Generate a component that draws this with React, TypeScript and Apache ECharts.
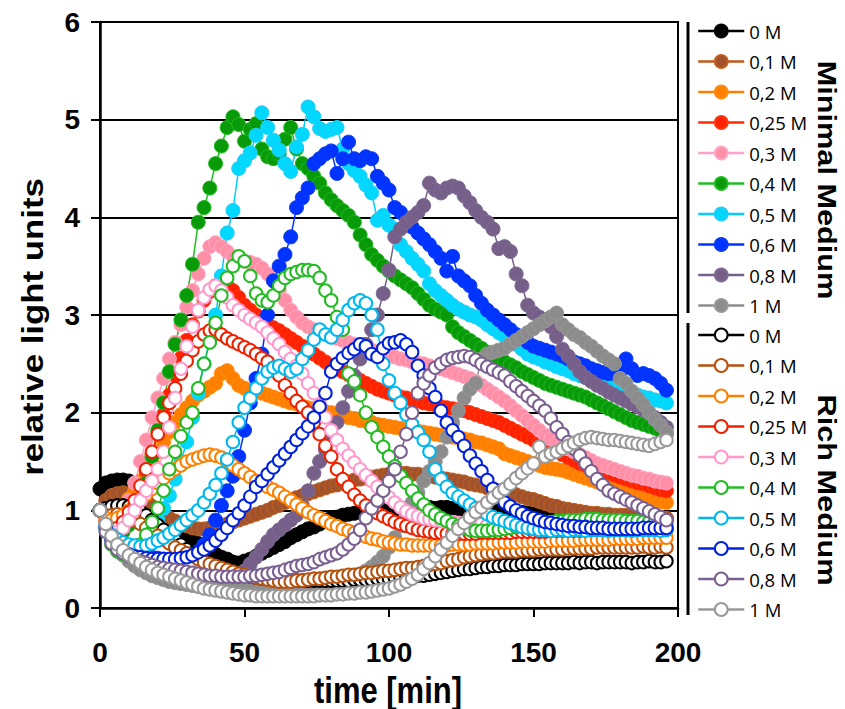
import React, { useEffect, useRef } from "react";
import * as echarts from "echarts";

// Readings every 2 minutes, 0 … 196 min
const times: number[] = Array.from({ length: 99 }, (_, i) => i * 2);

const concentrations = ["0 M", "0,1 M", "0,2 M", "0,25 M", "0,3 M", "0,4 M", "0,5 M", "0,6 M", "0,8 M", "1 M"];
const xTicks = [0, 50, 100, 150, 200];
const yTicks = [0, 1, 2, 3, 4, 5, 6];

// ---------- Minimal medium (filled markers) ----------
const minimal0 = [
  1.22, 1.28, 1.30, 1.31, 1.31, 1.30, 1.25, 1.18, 1.10, 1.02,
  0.96, 0.92, 0.88, 0.85, 0.80, 0.75, 0.70, 0.66, 0.62, 0.58,
  0.55, 0.52, 0.50, 0.47, 0.46, 0.48, 0.50, 0.53, 0.56, 0.59,
  0.62, 0.65, 0.68, 0.72, 0.75, 0.78, 0.81, 0.83, 0.86, 0.90,
  0.92, 0.93, 0.95, 0.96, 0.97, 0.98, 0.99, 0.99, 1.00, 1.00,
  1.01, 1.01, 1.02, 1.02, 1.02, 1.03, 1.03, 1.03, 1.02, 1.03,
  1.03, 1.02, 1.02, 1.01, 1.01, 1.00, 1.00, 1.00, 0.99, 0.99,
  0.99, 0.98, 0.98, 0.98, 0.97, 0.97, 0.97, 0.96, 0.96, 0.96,
  0.96, 0.95, 0.95, 0.95, 0.94, 0.94, 0.94, 0.94, 0.93, 0.93,
  0.93, 0.93, 0.92, 0.92, 0.92, 0.92, 0.91, 0.91, 0.91,
];
const minimal01 = [
  1.00, 1.10, 1.15, 1.17, 1.18, 1.17, 1.15, 1.12, 1.08, 1.04,
  1.00, 0.96, 0.92, 0.89, 0.86, 0.84, 0.82, 0.81, 0.81, 0.82,
  0.83, 0.84, 0.86, 0.88, 0.90, 0.92, 0.94, 0.96, 0.98, 1.00,
  1.03, 1.05, 1.08, 1.10, 1.13, 1.15, 1.17, 1.19, 1.21, 1.23,
  1.25, 1.26, 1.28, 1.29, 1.31, 1.32, 1.33, 1.34, 1.35, 1.36,
  1.37, 1.38, 1.38, 1.38, 1.37, 1.37, 1.36, 1.35, 1.34, 1.33,
  1.32, 1.31, 1.30, 1.29, 1.27, 1.26, 1.25, 1.23, 1.22, 1.20,
  1.19, 1.17, 1.16, 1.14, 1.12, 1.11, 1.09, 1.07, 1.05, 1.04,
  1.02, 1.01, 1.00, 0.99, 0.98, 0.97, 0.97, 0.96, 0.96, 0.95,
  0.95, 0.95, 0.94, 0.94, 0.94, 0.93, 0.93, 0.93, 0.92,
];
const minimal02 = [
  1.00, 0.95, 0.95, 1.00, 1.05, 1.12, 1.20, 1.30, 1.40, 1.50,
  1.60, 1.70, 1.80, 1.90, 1.98, 2.05, 2.12, 2.18, 2.22, 2.26,
  2.30, 2.40, 2.43, 2.35, 2.28, 2.25, 2.23, 2.21, 2.20, 2.18,
  2.16, 2.14, 2.12, 2.10, 2.09, 2.07, 2.05, 2.04, 2.02, 2.01,
  2.00, 1.98, 1.97, 1.95, 1.94, 1.92, 1.91, 1.90, 1.88, 1.87,
  1.86, 1.85, 1.84, 1.83, 1.82, 1.81, 1.80, 1.79, 1.78, 1.77,
  1.76, 1.75, 1.74, 1.73, 1.72, 1.70, 1.69, 1.67, 1.65, 1.63,
  1.58, 1.56, 1.54, 1.52, 1.50, 1.48, 1.46, 1.44, 1.43, 1.42,
  1.41, 1.39, 1.37, 1.35, 1.33, 1.31, 1.29, 1.27, 1.25, 1.23,
  1.21, 1.19, 1.17, 1.15, 1.13, 1.11, 1.10, 1.09, 1.08,
];
const minimal025 = [
  1.00, 0.90, 0.85, 0.85, 0.90, 0.98, 1.10, 1.25, 1.40, 1.58,
  1.78, 1.98, 2.18, 2.38, 2.56, 2.74, 2.90, 3.04, 3.15, 3.24,
  3.30, 3.32, 3.30, 3.25, 3.18, 3.10, 3.05, 3.00, 2.95, 2.90,
  2.87, 2.84, 2.80, 2.76, 2.72, 2.68, 2.64, 2.60, 2.56, 2.52,
  2.48, 2.45, 2.42, 2.39, 2.36, 2.33, 2.30, 2.27, 2.24, 2.22,
  2.20, 2.18, 2.16, 2.15, 2.13, 2.12, 2.10, 2.09, 2.08, 2.06,
  2.05, 2.04, 2.03, 2.02, 2.00, 1.98, 1.96, 1.94, 1.92, 1.90,
  1.87, 1.84, 1.81, 1.78, 1.75, 1.72, 1.69, 1.66, 1.63, 1.60,
  1.57, 1.54, 1.51, 1.48, 1.46, 1.44, 1.42, 1.40, 1.38, 1.36,
  1.34, 1.32, 1.30, 1.28, 1.27, 1.25, 1.23, 1.21, 1.20,
];
const minimal03 = [
  1.00, 0.92, 0.88, 0.90, 0.98, 1.10, 1.28, 1.50, 1.72, 1.95,
  2.15, 2.35, 2.55, 2.72, 2.90, 3.08, 3.25, 3.42, 3.58, 3.70,
  3.74, 3.70, 3.65, 3.60, 3.57, 3.55, 3.54, 3.52, 3.48, 3.42,
  3.35, 3.25, 3.15, 3.05, 2.98, 2.92, 2.88, 2.85, 2.82, 2.80,
  2.78, 2.76, 2.74, 2.72, 2.70, 2.68, 2.66, 2.64, 2.62, 2.60,
  2.58, 2.57, 2.55, 2.54, 2.52, 2.51, 2.50, 2.48, 2.46, 2.45,
  2.43, 2.41, 2.39, 2.37, 2.35, 2.32, 2.28, 2.24, 2.20, 2.16,
  2.12, 2.07, 2.02, 1.97, 1.92, 1.87, 1.82, 1.77, 1.73, 1.69,
  1.66, 1.63, 1.60, 1.57, 1.54, 1.51, 1.48, 1.46, 1.44, 1.42,
  1.40, 1.38, 1.36, 1.35, 1.33, 1.32, 1.30, 1.29, 1.28,
];
const minimal04 = [
  1.00, 0.85, 0.78, 0.75, 0.78, 0.85, 0.95, 1.10, 1.28, 1.55,
  1.82, 2.10, 2.42, 2.70, 2.95, 3.20, 3.52, 3.95, 4.10, 4.30,
  4.55, 4.73, 4.92, 5.03, 4.95, 4.78, 4.90, 4.96, 4.70, 4.62,
  4.60, 4.65, 4.80, 4.92, 4.70, 4.55, 4.50, 4.42, 4.35, 4.25,
  4.18, 4.12, 4.07, 4.02, 3.95, 3.82, 3.72, 3.62, 3.56, 3.50,
  3.45, 3.40, 3.36, 3.32, 3.28, 3.22, 3.16, 3.10, 3.06, 3.03,
  3.00, 2.88, 2.82, 2.78, 2.74, 2.70, 2.66, 2.62, 2.58, 2.55,
  2.52, 2.49, 2.46, 2.42, 2.39, 2.36, 2.33, 2.30, 2.28, 2.26,
  2.24, 2.22, 2.20, 2.18, 2.16, 2.13, 2.10, 2.07, 2.04, 2.01,
  1.98, 1.95, 1.92, 1.90, 1.88, 1.86, 1.84, 1.81, 1.78,
];
const minimal05 = [
  1.00, 0.85, 0.75, 0.68, 0.63, 0.60, 0.60, 0.62, 0.68, 0.78,
  0.90, 1.02, 1.15, 1.32, 1.50, 1.70, 1.95, 2.20, 2.50, 2.75,
  3.00, 3.40, 3.84, 4.07, 4.50, 4.58, 4.66, 4.84, 5.07, 4.92,
  4.79, 4.69, 4.55, 4.47, 4.72, 4.85, 5.13, 5.03, 4.91, 4.88,
  4.90, 4.92, 4.70, 4.55, 4.48, 4.42, 4.33, 4.25, 3.97, 4.02,
  3.92, 3.88, 3.72, 3.65, 3.58, 3.52, 3.45, 3.32, 3.25, 3.20,
  3.15, 3.10, 3.06, 3.03, 3.00, 2.98, 2.95, 2.90, 2.86, 2.82,
  2.78, 2.74, 2.70, 2.65, 2.60, 2.57, 2.55, 2.52, 2.50, 2.47,
  2.45, 2.43, 2.40, 2.38, 2.36, 2.34, 2.32, 2.30, 2.28, 2.26,
  2.24, 2.22, 2.20, 2.18, 2.16, 2.15, 2.13, 2.12, 2.10,
];
const minimal06 = [
  1.00, 0.85, 0.75, 0.68, 0.63, 0.60, 0.57, 0.55, 0.53, 0.52,
  0.51, 0.50, 0.50, 0.50, 0.51, 0.53, 0.55, 0.58, 0.65, 0.75,
  0.90, 1.05, 1.20, 1.35, 1.55, 1.82, 2.10, 2.35, 2.60, 3.00,
  3.35, 3.50, 3.62, 3.80, 4.10, 4.20, 4.30, 4.55, 4.60, 4.65,
  4.68, 4.45, 4.60, 4.77, 4.60, 4.58, 4.62, 4.60, 4.42, 4.35,
  4.28, 4.10, 4.05, 3.97, 3.90, 3.84, 3.78, 3.72, 3.65, 3.58,
  3.45, 3.60, 3.40, 3.35, 3.30, 3.20, 3.12, 3.05, 3.00, 2.95,
  2.90, 2.85, 2.80, 2.76, 2.72, 2.68, 2.66, 2.64, 2.62, 2.60,
  2.58, 2.55, 2.52, 2.50, 2.48, 2.45, 2.43, 2.41, 2.40, 2.40,
  2.42, 2.55, 2.45, 2.38, 2.40, 2.38, 2.35, 2.30, 2.23,
];
const minimal08 = [
  1.00, 0.85, 0.75, 0.68, 0.62, 0.57, 0.53, 0.50, 0.47, 0.45,
  0.42, 0.40, 0.38, 0.36, 0.35, 0.33, 0.32, 0.31, 0.30, 0.29,
  0.28, 0.28, 0.29, 0.30, 0.33, 0.38, 0.45, 0.52, 0.60, 0.68,
  0.75, 0.80, 0.85, 0.90, 0.95, 1.05, 1.20, 1.38, 1.50, 1.62,
  1.75, 1.90, 2.05, 2.22, 2.38, 2.55, 2.70, 2.85, 3.00, 3.22,
  3.46, 3.80, 3.88, 3.95, 4.00, 4.05, 4.12, 4.35, 4.28, 4.25,
  4.30, 4.32, 4.30, 4.22, 4.15, 4.07, 4.00, 3.95, 3.88, 3.68,
  3.70, 3.65, 3.42, 3.30, 3.10, 3.02, 2.98, 2.93, 2.88, 2.78,
  2.65, 2.58, 2.50, 2.42, 2.36, 2.32, 2.28, 2.25, 2.21, 2.18,
  2.15, 2.12, 2.09, 2.06, 2.03, 2.00, 1.95, 1.90, 1.85,
];
const minimal1 = [
  1.00, 0.85, 0.72, 0.62, 0.54, 0.48, 0.43, 0.39, 0.36, 0.33,
  0.31, 0.29, 0.27, 0.26, 0.25, 0.24, 0.23, 0.22, 0.21, 0.21,
  0.20, 0.20, 0.19, 0.19, 0.19, 0.18, 0.18, 0.18, 0.18, 0.18,
  0.18, 0.18, 0.18, 0.18, 0.19, 0.19, 0.19, 0.20, 0.21, 0.22,
  0.22, 0.24, 0.26, 0.28, 0.31, 0.34, 0.38, 0.42, 0.47, 0.53,
  0.62, 0.72, 0.84, 0.96, 1.08, 1.18, 1.30, 1.40, 1.50, 1.60,
  1.75, 1.90, 2.02, 2.15, 2.24, 2.30, 2.55, 2.60, 2.62, 2.64,
  2.66, 2.70, 2.74, 2.78, 2.82, 2.86, 2.90, 2.94, 2.98, 3.02,
  2.90, 2.85, 2.80, 2.77, 2.72, 2.68, 2.63, 2.58, 2.54, 2.50,
  2.35, 2.30, 2.22, 2.15, 2.08, 2.00, 1.93, 1.87, 1.80,
];

// ---------- Rich medium (open markers) ----------
const rich0 = [
  1.00, 1.02, 1.04, 1.05, 1.05, 1.04, 1.02, 0.99, 0.95, 0.90,
  0.85, 0.80, 0.75, 0.70, 0.65, 0.60, 0.56, 0.52, 0.48, 0.45,
  0.42, 0.40, 0.38, 0.36, 0.34, 0.33, 0.32, 0.31, 0.30, 0.30,
  0.29, 0.29, 0.29, 0.28, 0.28, 0.28, 0.28, 0.28, 0.28, 0.28,
  0.28, 0.28, 0.28, 0.28, 0.29, 0.29, 0.29, 0.29, 0.30, 0.30,
  0.30, 0.31, 0.31, 0.32, 0.32, 0.33, 0.33, 0.34, 0.35, 0.36,
  0.37, 0.38, 0.39, 0.40, 0.40, 0.41, 0.42, 0.42, 0.43, 0.43,
  0.44, 0.44, 0.44, 0.45, 0.45, 0.45, 0.45, 0.46, 0.46, 0.46,
  0.46, 0.46, 0.47, 0.46, 0.47, 0.47, 0.46, 0.47, 0.47, 0.47,
  0.47, 0.47, 0.46, 0.47, 0.47, 0.48, 0.47, 0.47, 0.48,
];
const rich01 = [
  1.00, 0.95, 0.95, 0.96, 0.95, 0.93, 0.90, 0.86, 0.82, 0.78,
  0.74, 0.70, 0.66, 0.62, 0.59, 0.56, 0.53, 0.50, 0.47, 0.45,
  0.43, 0.41, 0.39, 0.37, 0.35, 0.34, 0.32, 0.31, 0.30, 0.29,
  0.28, 0.27, 0.27, 0.27, 0.28, 0.28, 0.29, 0.30, 0.30, 0.31,
  0.32, 0.32, 0.33, 0.34, 0.34, 0.35, 0.36, 0.36, 0.37, 0.38,
  0.38, 0.39, 0.40, 0.41, 0.41, 0.42, 0.43, 0.44, 0.45, 0.46,
  0.48, 0.49, 0.50, 0.52, 0.53, 0.54, 0.55, 0.56, 0.56, 0.57,
  0.58, 0.58, 0.58, 0.59, 0.59, 0.59, 0.60, 0.60, 0.60, 0.60,
  0.60, 0.61, 0.61, 0.61, 0.61, 0.61, 0.62, 0.62, 0.62, 0.62,
  0.62, 0.62, 0.62, 0.62, 0.63, 0.62, 0.62, 0.63, 0.62,
];
const rich02 = [
  1.00, 0.92, 0.90, 0.92, 0.95, 1.00, 1.05, 1.10, 1.16, 1.22,
  1.28, 1.33, 1.38, 1.42, 1.46, 1.50, 1.52, 1.54, 1.56, 1.57,
  1.56, 1.54, 1.50, 1.46, 1.42, 1.38, 1.34, 1.30, 1.27, 1.24,
  1.21, 1.18, 1.14, 1.10, 1.06, 1.02, 0.98, 0.95, 0.92, 0.89,
  0.86, 0.84, 0.81, 0.79, 0.77, 0.75, 0.73, 0.71, 0.70, 0.68,
  0.67, 0.66, 0.65, 0.65, 0.64, 0.64, 0.64, 0.64, 0.64, 0.64,
  0.64, 0.65, 0.65, 0.65, 0.65, 0.66, 0.66, 0.66, 0.66, 0.67,
  0.67, 0.67, 0.67, 0.68, 0.68, 0.68, 0.68, 0.68, 0.69, 0.69,
  0.69, 0.69, 0.69, 0.70, 0.70, 0.70, 0.70, 0.70, 0.70, 0.71,
  0.71, 0.71, 0.71, 0.71, 0.72, 0.72, 0.72, 0.72, 0.72,
];
const rich025 = [
  1.00, 0.85, 0.80, 0.82, 0.88, 0.98, 1.10, 1.25, 1.42, 1.60,
  1.78, 1.95, 2.10, 2.25, 2.40, 2.53, 2.64, 2.73, 2.80, 2.84,
  2.85, 2.80, 2.76, 2.73, 2.70, 2.67, 2.64, 2.60, 2.56, 2.52,
  2.46, 2.38, 2.28, 2.20, 2.12, 2.06, 2.00, 1.90, 1.78, 1.66,
  1.55, 1.42, 1.32, 1.24, 1.16, 1.10, 1.05, 1.00, 0.97, 0.94,
  0.91, 0.88, 0.86, 0.84, 0.82, 0.80, 0.79, 0.78, 0.77, 0.77,
  0.76, 0.76, 0.76, 0.76, 0.76, 0.76, 0.77, 0.77, 0.77, 0.77,
  0.77, 0.77, 0.78, 0.78, 0.78, 0.78, 0.78, 0.78, 0.79, 0.79,
  0.79, 0.79, 0.79, 0.79, 0.80, 0.80, 0.80, 0.80, 0.80, 0.80,
  0.80, 0.80, 0.80, 0.81, 0.81, 0.81, 0.81, 0.81, 0.81,
];
const rich03 = [
  1.00, 0.85, 0.78, 0.78, 0.82, 0.90, 1.00, 1.10, 1.20, 1.30,
  1.42, 1.60, 1.85, 2.15, 2.45, 2.68, 2.88, 3.05, 3.18, 3.26,
  3.30, 3.25, 3.18, 3.10, 3.05, 3.00, 2.96, 2.92, 2.88, 2.82,
  2.76, 2.70, 2.62, 2.55, 2.48, 2.40, 2.30, 2.20, 2.08, 1.95,
  1.82, 1.72, 1.63, 1.56, 1.49, 1.42, 1.36, 1.30, 1.24, 1.18,
  1.13, 1.08, 1.03, 0.99, 0.96, 0.94, 0.92, 0.91, 0.90, 0.89,
  0.88, 0.88, 0.87, 0.87, 0.86, 0.86, 0.86, 0.85, 0.85, 0.85,
  0.85, 0.84, 0.85, 0.85, 0.84, 0.85, 0.85, 0.86, 0.85, 0.85,
  0.85, 0.86, 0.85, 0.86, 0.86, 0.86, 0.87, 0.86, 0.86, 0.86,
  0.86, 0.87, 0.86, 0.87, 0.87, 0.87, 0.87, 0.88, 0.87,
];
const rich04 = [
  1.00, 0.80, 0.65, 0.58, 0.55, 0.55, 0.58, 0.65, 0.75, 0.88,
  1.02, 1.20, 1.42, 1.60, 1.76, 1.90, 2.00, 2.25, 2.50, 2.72,
  2.92, 3.20, 3.38, 3.50, 3.60, 3.55, 3.40, 3.22, 3.15, 3.13,
  3.20, 3.30, 3.38, 3.42, 3.44, 3.46, 3.46, 3.45, 3.38, 3.25,
  3.15, 2.98, 2.85, 2.40, 2.32, 2.18, 2.00, 1.85, 1.75, 1.65,
  1.55, 1.45, 1.35, 1.28, 1.20, 1.12, 1.06, 1.00, 0.96, 0.92,
  0.89, 0.86, 0.84, 0.82, 0.80, 0.79, 0.79, 0.79, 0.80, 0.80,
  0.81, 0.82, 0.83, 0.84, 0.85, 0.86, 0.87, 0.88, 0.88, 0.89,
  0.89, 0.90, 0.90, 0.90, 0.91, 0.91, 0.91, 0.90, 0.90, 0.90,
  0.90, 0.89, 0.89, 0.89, 0.88, 0.88, 0.88, 0.88, 0.88,
];
const rich05 = [
  1.00, 0.85, 0.75, 0.70, 0.67, 0.65, 0.64, 0.63, 0.64, 0.66,
  0.69, 0.72, 0.76, 0.80, 0.85, 0.90, 0.95, 1.00, 1.08, 1.17,
  1.26, 1.38, 1.52, 1.70, 1.90, 2.05, 2.15, 2.25, 2.35, 2.42,
  2.46, 2.48, 2.45, 2.42, 2.45, 2.55, 2.64, 2.75, 2.85, 2.80,
  2.77, 2.85, 2.95, 3.05, 3.12, 3.15, 3.12, 3.00, 2.85, 2.50,
  2.33, 2.20, 2.10, 1.98, 1.88, 1.80, 1.72, 1.60, 1.42, 1.32,
  1.24, 1.18, 1.14, 1.10, 1.06, 1.02, 0.99, 0.96, 0.93, 0.91,
  0.89, 0.87, 0.85, 0.83, 0.82, 0.81, 0.80, 0.80, 0.79, 0.80,
  0.80, 0.79, 0.80, 0.80, 0.79, 0.80, 0.80, 0.80, 0.79, 0.80,
  0.80, 0.80, 0.79, 0.80, 0.80, 0.80, 0.80, 0.79, 0.80,
];
const rich06 = [
  1.00, 0.82, 0.70, 0.63, 0.58, 0.55, 0.53, 0.52, 0.51, 0.50,
  0.50, 0.50, 0.50, 0.50, 0.51, 0.52, 0.54, 0.57, 0.60, 0.64,
  0.69, 0.75, 0.82, 0.90, 0.97, 1.05, 1.14, 1.24, 1.30, 1.37,
  1.44, 1.51, 1.58, 1.65, 1.72, 1.79, 1.86, 1.95, 2.06, 2.20,
  2.42, 2.50, 2.56, 2.61, 2.65, 2.70, 2.68, 2.60, 2.57, 2.66,
  2.71, 2.72, 2.74, 2.70, 2.62, 2.48, 2.38, 2.25, 2.16, 2.02,
  1.90, 1.82, 1.75, 1.66, 1.56, 1.48, 1.40, 1.31, 1.22, 1.14,
  1.08, 1.04, 1.00, 0.97, 0.94, 0.92, 0.90, 0.88, 0.87, 0.86,
  0.85, 0.84, 0.84, 0.83, 0.83, 0.82, 0.82, 0.82, 0.81, 0.81,
  0.81, 0.81, 0.81, 0.81, 0.82, 0.82, 0.82, 0.82, 0.82,
];
const rich08 = [
  1.00, 0.78, 0.66, 0.60, 0.56, 0.53, 0.50, 0.48, 0.46, 0.44,
  0.42, 0.41, 0.40, 0.39, 0.38, 0.37, 0.36, 0.35, 0.34, 0.33,
  0.33, 0.32, 0.32, 0.32, 0.32, 0.32, 0.33, 0.33, 0.34, 0.35,
  0.36, 0.37, 0.39, 0.41, 0.43, 0.44, 0.45, 0.47, 0.50, 0.52,
  0.54, 0.56, 0.60, 0.65, 0.71, 0.80, 0.92, 1.02, 1.10, 1.20,
  1.30, 1.42, 1.60, 1.78, 2.00, 2.20, 2.30, 2.38, 2.46, 2.50,
  2.54, 2.56, 2.57, 2.58, 2.57, 2.54, 2.50, 2.47, 2.44, 2.41,
  2.38, 2.32, 2.27, 2.22, 2.17, 2.12, 2.07, 2.02, 1.94, 1.85,
  1.78, 1.70, 1.63, 1.56, 1.48, 1.40, 1.32, 1.26, 1.20, 1.17,
  1.14, 1.11, 1.08, 1.05, 1.02, 0.99, 0.96, 0.93, 0.90,
];
const rich1 = [
  1.00, 0.86, 0.74, 0.65, 0.59, 0.54, 0.50, 0.46, 0.42, 0.39,
  0.36, 0.34, 0.32, 0.30, 0.28, 0.26, 0.24, 0.22, 0.20, 0.19,
  0.18, 0.17, 0.16, 0.15, 0.14, 0.13, 0.13, 0.12, 0.12, 0.12,
  0.12, 0.12, 0.12, 0.12, 0.12, 0.12, 0.12, 0.12, 0.13, 0.13,
  0.13, 0.14, 0.14, 0.15, 0.15, 0.16, 0.16, 0.17, 0.18, 0.19,
  0.20, 0.22, 0.24, 0.27, 0.30, 0.34, 0.40, 0.46, 0.53, 0.60,
  0.67, 0.74, 0.81, 0.87, 0.93, 0.98, 1.03, 1.08, 1.13, 1.18,
  1.22, 1.27, 1.33, 1.38, 1.43, 1.48, 1.65, 1.55, 1.58, 1.60,
  1.63, 1.66, 1.69, 1.72, 1.74, 1.75, 1.74, 1.73, 1.72, 1.72,
  1.71, 1.70, 1.69, 1.68, 1.67, 1.66, 1.68, 1.70, 1.72,
];

const minimalSets = [minimal0, minimal01, minimal02, minimal025, minimal03, minimal04, minimal05, minimal06, minimal08, minimal1];
const richSets = [rich0, rich01, rich02, rich025, rich03, rich04, rich05, rich06, rich08, rich1];

// line colour, marker fill, marker border
const minimalColors = [
  ["#000000", "#000000", "#000000"],
  ["#C0581A", "#A0522D", "#C0601E"],
  ["#FF8000", "#FF8000", "#FF8C10"],
  ["#FF2A00", "#FF2200", "#FF3A10"],
  ["#FFA0CC", "#FF8FA6", "#FFA8C8"],
  ["#22BB22", "#089A08", "#22BB22"],
  ["#00CCFF", "#00D8FF", "#22CCF5"],
  ["#0033FF", "#0033FF", "#0A3CF5"],
  ["#76608A", "#76608A", "#7E6A92"],
  ["#8C8C8C", "#8C8C8C", "#999999"],
];
const richColors = ["#000000", "#B5520E", "#FF8000", "#EE2200", "#FF99CC", "#22BB22", "#00B8EE", "#0022DD", "#7A6090", "#999999"];

const AXIS_FONT = "'Liberation Sans', Arial, Helvetica, sans-serif";
const LEGEND_FONT = "'Open Sans', 'Noto Sans', sans-serif";

function App() {
  const ref = useRef<HTMLDivElement>(null);

  useEffect(() => {
    if (!ref.current) return;
    const chart = echarts.init(ref.current, undefined, { renderer: "svg" });

    const minimalNames = concentrations.map((c) => "Minimal|" + c);
    const richNames = concentrations.map((c) => "Rich|" + c);

    const minimalSeries = minimalSets.map((vals, k) => ({
      type: "line",
      name: minimalNames[k],
      data: times.map((t, i) => [t, vals[i]]),
      symbol: "circle",
      symbolSize: 14,
      showAllSymbol: true,
      silent: true,
      lineStyle: { color: minimalColors[k][0], width: 1.5 },
      itemStyle: { color: minimalColors[k][1], borderColor: minimalColors[k][2], borderWidth: 1 },
      emphasis: { disabled: true },
    }));
    const richSeries = richSets.map((vals, k) => ({
      type: "line",
      name: richNames[k],
      data: times.map((t, i) => [t, vals[i]]),
      symbol: "circle",
      symbolSize: 12.5,
      showAllSymbol: true,
      silent: true,
      lineStyle: { color: richColors[k], width: 1.5 },
      itemStyle: { color: "#ffffff", borderColor: richColors[k], borderWidth: 2 },
      emphasis: { disabled: true },
    }));

    const legendBase = {
      orient: "vertical",
      left: 697,
      itemWidth: 46,
      itemHeight: 16,
      itemGap: 10.5,
      padding: 0,
      selectedMode: false,
      formatter: (name: string) => name.split("|")[1],
      textStyle: { fontFamily: LEGEND_FONT, fontSize: 18.5, lineHeight: 20, color: "#000" },
      lineStyle: { width: 2.5 },
    };

    chart.setOption({
      animation: false,
      grid: { left: 100, top: 22, width: 578, height: 586, show: true, borderColor: "#000", borderWidth: 2 },
      xAxis: {
        type: "value",
        min: xTicks[0],
        max: xTicks[xTicks.length - 1],
        interval: 50,
        axisLine: { show: true, lineStyle: { color: "#000", width: 2.5 } },
        axisTick: { show: true, length: 9, lineStyle: { color: "#000", width: 2 } },
        splitLine: { show: false },
        axisLabel: { fontSize: 28, fontWeight: "bold", color: "#000", fontFamily: AXIS_FONT, margin: 30 },
      },
      yAxis: {
        type: "value",
        min: yTicks[0],
        max: yTicks[yTicks.length - 1],
        interval: 1,
        axisLine: { show: true, lineStyle: { color: "#000", width: 2.5 } },
        axisTick: { show: true, length: 9, lineStyle: { color: "#000", width: 2 } },
        splitLine: { show: true, lineStyle: { color: "#000", width: 2 } },
        axisLabel: { fontSize: 28, fontWeight: "bold", color: "#000", fontFamily: AXIS_FONT, margin: 20 },
      },
      legend: [
        { ...legendBase, top: 21, data: minimalNames },
        { ...legendBase, top: 325, data: richNames },
      ],
      graphic: [
        { type: "line", shape: { x1: 688, y1: 22, x2: 688, y2: 313 }, style: { stroke: "#000", lineWidth: 3 } },
        { type: "line", shape: { x1: 688, y1: 323, x2: 688, y2: 615 }, style: { stroke: "#000", lineWidth: 3 } },
        {
          type: "text", x: 827, y: 180, rotation: -Math.PI / 2, scaleX: 1.18,
          style: { text: "Minimal Medium", font: "bold 26px " + AXIS_FONT, fill: "#000", textAlign: "center", textVerticalAlign: "middle" },
        },
        {
          type: "text", x: 827, y: 490, rotation: -Math.PI / 2, scaleX: 1.18,
          style: { text: "Rich Medium", font: "bold 26px " + AXIS_FONT, fill: "#000", textAlign: "center", textVerticalAlign: "middle" },
        },
        {
          type: "text", x: 33, y: 327, rotation: Math.PI / 2, scaleX: 1.2,
          style: { text: "relative light units", font: "bold 29px " + AXIS_FONT, fill: "#000", textAlign: "center", textVerticalAlign: "middle" },
        },
        {
          type: "text", x: 388, y: 690, scaleY: 1.18,
          style: { text: "time [min]", font: "bold 31px " + AXIS_FONT, fill: "#000", textAlign: "center", textVerticalAlign: "middle" },
        },
      ],
      series: [...minimalSeries, ...richSeries],
    });

    return () => chart.dispose();
  }, []);

  return <div ref={ref} style={{ position: "fixed", left: 0, top: 0, width: 845, height: 709, background: "#fff" }} />;
}

export default App;
